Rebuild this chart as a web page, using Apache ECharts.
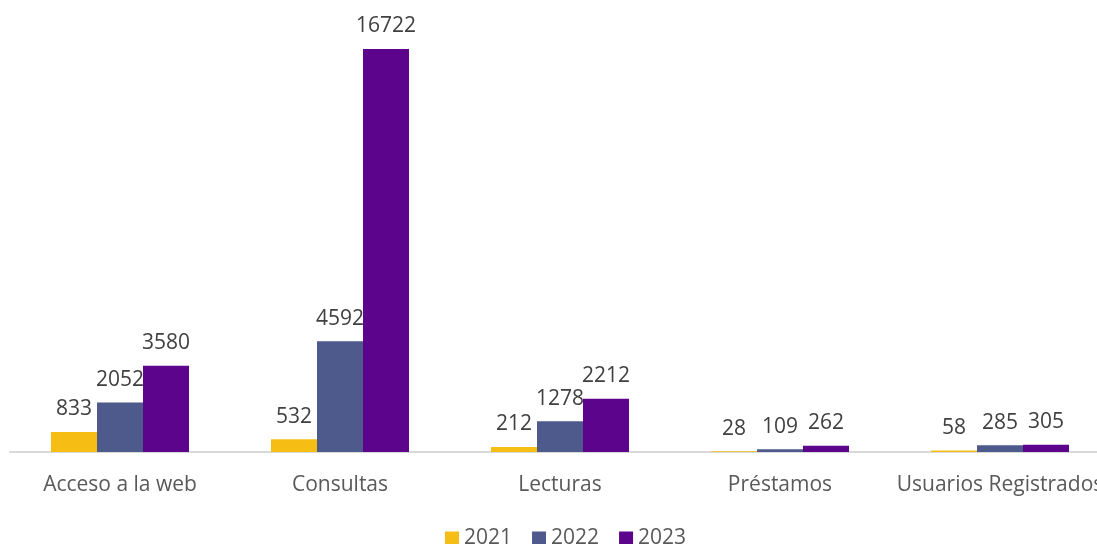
<!DOCTYPE html>
<html>
<head>
<meta charset="utf-8">
<script src="https://cdn.jsdelivr.net/npm/echarts@6/dist/echarts.min.js"></script>
<style>
html, body { margin: 0; padding: 0; background: #fff; overflow: hidden; }
#chart { width: 1110px; height: 544px; }
</style>
</head>
<body>
<div id="chart"></div>
<script>
const categories = ["Acceso a la web", "Consultas", "Lecturas", "Préstamos", "Usuarios Registrados"];
const years = ["2021", "2022", "2023"];
const values2021 = [833, 532, 212, 28, 58];
const values2022 = [2052, 4592, 1278, 109, 285];
const values2023 = [3580, 16722, 2212, 262, 305];
const colors = ["#F6BE15", "#4F5A8C", "#5C058C"];

const fontFamily = "'Open Sans', 'Noto Sans', sans-serif";

function makeSeries(name, data, color) {
    return {
        name: name,
        type: "bar",
        data: data,
        barWidth: 46,
        barGap: "0%",
        itemStyle: { color: color },
        label: {
            show: true,
            position: "top",
            distance: 12,
            color: "#404040",
            fontSize: 21,
            fontFamily: fontFamily
        }
    };
}

// chart is a bit wider than the window so the last label gets cut like the original
const chart = echarts.init(document.getElementById("chart"));
chart.setOption({
    animation: false,
    color: colors,
    grid: { left: 10, right: 0, top: 49, bottom: 92, containLabel: false },
    legend: {
        top: 523,
        left: 440,
        itemWidth: 14,
        itemHeight: 14,
        itemGap: 20,
        icon: "rect",
        textStyle: { color: "#595959", fontSize: 21, fontFamily: fontFamily },
        data: years
    },
    xAxis: {
        type: "category",
        data: categories,
        axisLine: { lineStyle: { color: "#D9D9D9", width: 2 } },
        axisTick: { show: false },
        axisLabel: { color: "#595959", fontSize: 21, fontFamily: fontFamily, margin: 23, interval: 0 }
    },
    yAxis: {
        type: "value",
        min: 0,
        max: "dataMax",
        show: false,
        splitLine: { show: false }
    },
    series: [
        makeSeries(years[0], values2021, colors[0]),
        makeSeries(years[1], values2022, colors[1]),
        makeSeries(years[2], values2023, colors[2])
    ]
});

window.addEventListener("resize", () => chart.resize(), { passive: true });
</script>
</body>
</html>
